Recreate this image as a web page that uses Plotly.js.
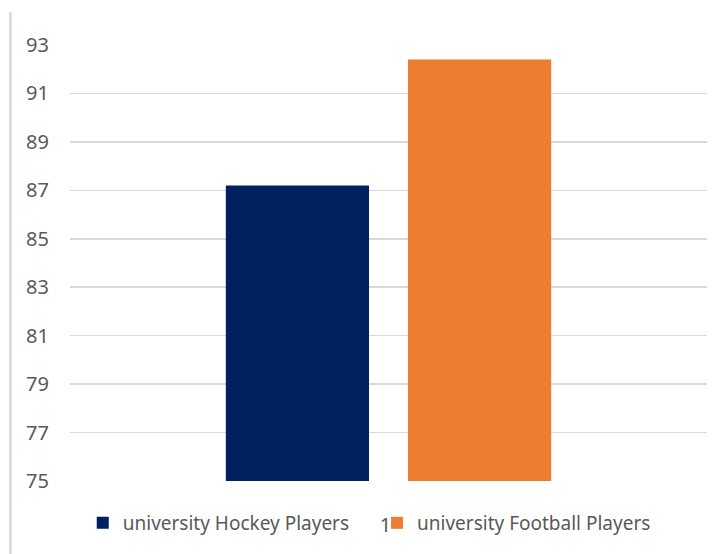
<!DOCTYPE html>
<html>
<head>
<meta charset="utf-8">
<script src="https://cdn.plot.ly/plotly-3.0.1.min.js"></script>
<style>html,body{margin:0;padding:0;background:#fff;}#chart{width:712px;height:554px;}</style>
</head>
<body>
<div id="chart"></div>
<script>
const categories = ["1"];
const seriesNames = ["university Hockey Players", "university Football Players"];
const hockeyValues = [87.2];
const footballValues = [92.4];
const yTicks = [75, 77, 79, 81, 83, 85, 87, 89, 91, 93];

const tickFont = {family: "Noto Sans, Open Sans, sans-serif", size: 20, color: "#595959"};
const legendFont = {family: "Noto Sans, Open Sans, sans-serif", size: 19, color: "#595959"};

const traces = [
  {type: "bar", name: seriesNames[0], x: categories, y: hockeyValues, marker: {color: "#002060"}, legend: "legend"},
  {type: "bar", name: seriesNames[1], x: categories, y: footballValues, marker: {color: "#ED7D31"}, legend: "legend2"}
];

const legendBase = {orientation: "h", yanchor: "middle", y: -0.0963, xanchor: "left",
                    font: legendFont, itemwidth: 30, bgcolor: "rgba(0,0,0,0)"};

const layout = {
  width: 712, height: 554,
  margin: {l: 70, r: 5, t: 45, b: 73},
  paper_bgcolor: "#fff", plot_bgcolor: "#fff",
  font: tickFont,
  barmode: "group",
  bargap: 0.428,
  bargroupgap: 0.214,
  showlegend: true,
  legend: Object.assign({}, legendBase, {x: 0.02}),
  legend2: Object.assign({}, legendBase, {x: 0.482}),
  xaxis: {type: "category", showgrid: false, zeroline: false, showline: false,
          ticks: "", ticklabelstandoff: 30, ticklabelshift: -3, tickfont: tickFont},
  yaxis: {range: [75, 93], tickvals: yTicks, showgrid: true, gridcolor: "#d9d9d9", gridwidth: 1.5,
          zeroline: false, showline: false, ticks: "", tickfont: tickFont, ticklabelstandoff: 20},
  shapes: [
    {type: "line", xref: "paper", yref: "paper", x0: -59.5/637, x1: -59.5/637, y0: -73/436, y1: (436+33)/436,
     line: {color: "#d9d9d9", width: 2.5}}
  ]
};

Plotly.newPlot("chart", traces, layout, {displayModeBar: false, staticPlot: true});
</script>
</body>
</html>
